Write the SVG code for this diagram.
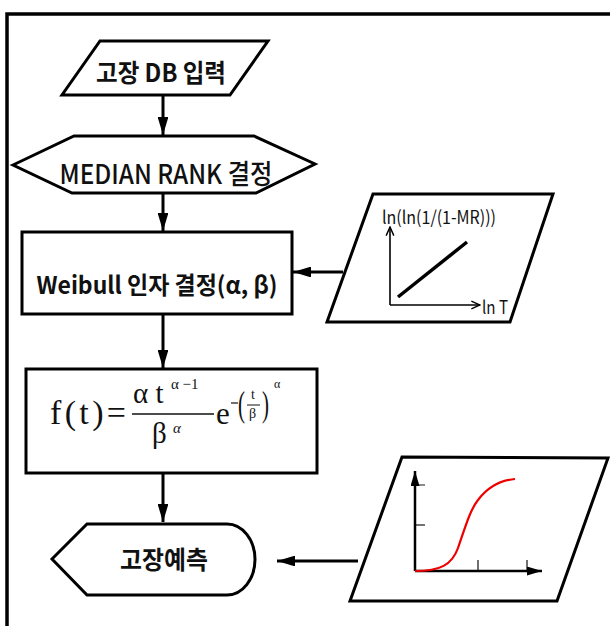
<svg xmlns="http://www.w3.org/2000/svg" width="610" height="626" viewBox="0 0 610 626">
<defs>
<style>
.shape{fill:#fff;stroke:#000;stroke-width:3}
.con{fill:none;stroke:#000;stroke-width:3}
.thin{fill:none;stroke:#000;stroke-width:1.6}
.kr{font-family:"Noto Sans CJK KR","Liberation Sans",sans-serif;fill:#111}
.math{font-family:"Liberation Serif",serif;fill:#111}
</style>
<marker id="ah" viewBox="0 0 10 10" refX="10" refY="5" markerWidth="6" markerHeight="3.6" orient="auto" markerUnits="strokeWidth" preserveAspectRatio="none">
<path d="M0,0 L10,5 L0,10 Z" fill="#000"/>
</marker>
<marker id="oh" viewBox="0 0 10 10" refX="9" refY="5" markerWidth="6" markerHeight="6" orient="auto" markerUnits="strokeWidth">
<path d="M0,1 L9,5 L0,9" fill="none" stroke="#000" stroke-width="1.5"/>
</marker>
</defs>
<rect width="610" height="626" fill="#fff"/>
<g id="frame">
<path d="M7,626 L7,14 L610,14" fill="none" stroke="#000" stroke-width="3.5"/>
</g>
<g id="connectors">
<line class="con" x1="163" y1="95" x2="163" y2="135" marker-end="url(#ah)"/>
<line class="con" x1="163" y1="193" x2="163" y2="231" marker-end="url(#ah)"/>
<line class="con" x1="163" y1="314" x2="163" y2="368" marker-end="url(#ah)"/>
<line class="con" x1="163" y1="473" x2="163" y2="522" marker-end="url(#ah)"/>
<line class="con" x1="343" y1="272" x2="293" y2="272" marker-end="url(#ah)"/>
<line class="con" x1="358" y1="561" x2="277" y2="561" marker-end="url(#ah)"/>
</g>
<g id="input">
<polygon class="shape" points="100,41 268,41 230,95 62,95"/>
<text class="kr" x="161" y="82" font-size="25" font-weight="bold" text-anchor="middle" textLength="130" lengthAdjust="spacingAndGlyphs">고장 DB 입력</text>
</g>
<g id="median">
<polygon class="shape" points="13,165 74,136 254,136 315,164 256,193 72,193"/>
<text class="kr" x="166" y="184" font-size="27" font-weight="500" text-anchor="middle" textLength="213" lengthAdjust="spacingAndGlyphs">MEDIAN RANK 결정</text>
</g>
<g id="weibull">
<rect class="shape" x="22" y="232" width="270" height="82"/>
<text class="kr" x="157" y="294" font-size="24" font-weight="bold" text-anchor="middle" textLength="241" lengthAdjust="spacingAndGlyphs">Weibull 인자 결정(α, β)</text>
</g>
<g id="lnplot">
<polygon class="shape" points="373,194 553,194 510,322 327,322"/>
<text class="kr" x="382" y="224" font-size="18" textLength="114" lengthAdjust="spacingAndGlyphs">ln(ln(1/(1-MR)))</text>
<line class="thin" x1="390" y1="305" x2="390" y2="227" marker-end="url(#oh)"/>
<line class="thin" x1="390" y1="305" x2="480" y2="305" marker-end="url(#oh)"/>
<line x1="398" y1="297" x2="467" y2="242" stroke="#000" stroke-width="3.5"/>
<text class="kr" x="482" y="314" font-size="18" textLength="26" lengthAdjust="spacingAndGlyphs">ln T</text>
</g>
<g id="formula">
<rect class="shape" x="26" y="369" width="291" height="104"/>
<text class="math" x="50" y="424" font-size="34" textLength="76" lengthAdjust="spacing">f(t)=</text>
<text class="math" x="133" y="403" font-size="29">α t</text>
<text class="math" x="171" y="389" font-size="15">α −1</text>
<line x1="132" y1="414" x2="214" y2="414" stroke="#111" stroke-width="1.4"/>
<text class="math" x="152" y="443" font-size="29">β</text>
<text class="math" x="173" y="433" font-size="15" font-style="italic">α</text>
<text class="math" x="216" y="424" font-size="31">e</text>
<line x1="231" y1="403" x2="238" y2="403" stroke="#111" stroke-width="1.2"/>
<text class="math" x="238" y="416" font-size="36" textLength="7" lengthAdjust="spacingAndGlyphs">(</text>
<text class="math" x="251" y="399" font-size="14">t</text>
<line x1="247" y1="405" x2="260" y2="405" stroke="#111" stroke-width="1"/>
<text class="math" x="249" y="418" font-size="14">β</text>
<text class="math" x="262" y="416" font-size="36" textLength="7" lengthAdjust="spacingAndGlyphs">)</text>
<text class="math" x="274" y="388" font-size="12">α</text>
</g>
<g id="predict">
<path class="shape" d="M52,559 L87,524 L227,524 A28,35.5 0 0 1 227,595 L87,595 Z"/>
<text class="kr" x="164" y="569" font-size="25" font-weight="bold" text-anchor="middle" textLength="88" lengthAdjust="spacingAndGlyphs">고장예측</text>
</g>
<g id="cdfplot">
<polygon class="shape" points="402,457 608,458 557,601 350,601"/>
<line x1="415" y1="485" x2="425" y2="485" stroke="#666" stroke-width="1.5"/>
<line x1="415" y1="525" x2="425" y2="525" stroke="#444" stroke-width="1.5"/>
<line x1="478" y1="571" x2="478" y2="560" stroke="#222" stroke-width="1.3"/>
<line x1="527" y1="571" x2="527" y2="560" stroke="#222" stroke-width="1.3"/>
<line x1="415" y1="571" x2="415" y2="471" stroke="#000" stroke-width="2.5" marker-end="url(#ah)"/>
<line x1="415" y1="571" x2="542" y2="571" stroke="#000" stroke-width="2.5" marker-end="url(#ah)"/>
<path d="M415,571 C440,571 452,565 458,548 C465,528 470,510 478,500 C490,484 503,480 515,479" fill="none" stroke="#e00" stroke-width="2.2"/>
</g>
</svg>
